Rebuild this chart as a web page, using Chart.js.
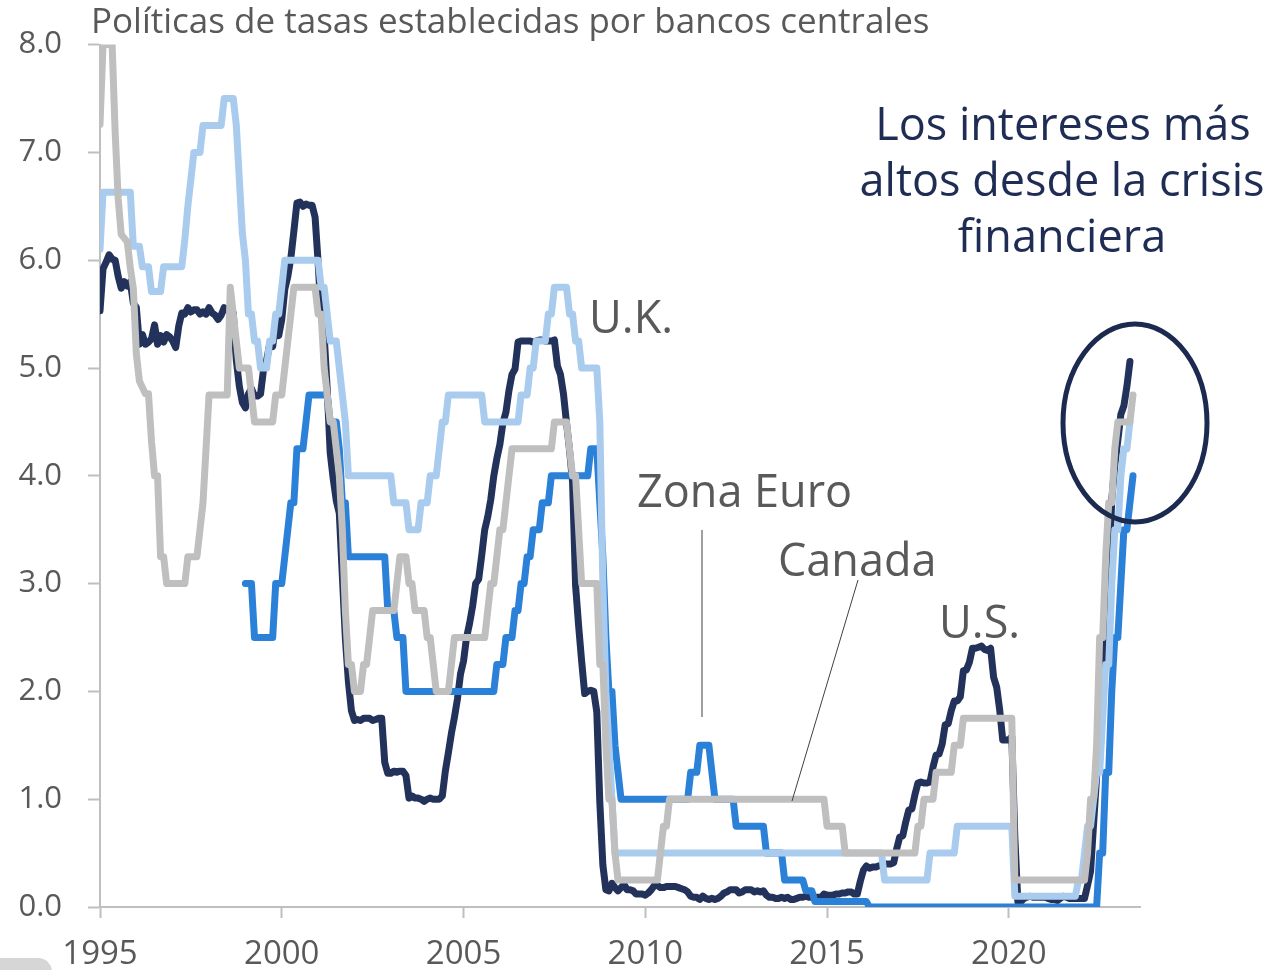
<!DOCTYPE html>
<html>
<head>
<meta charset="utf-8">
<script src="https://cdn.jsdelivr.net/npm/chart.js@4.4.0/dist/chart.umd.min.js"></script>
<style>
html,body{margin:0;padding:0;background:#ffffff;}
canvas{display:block;}
</style>
</head>
<body>
<canvas id="c" width="1276" height="970"></canvas>
<script>
// ---------------- DATA ----------------
const chartTitle = 'Políticas de tasas establecidas por bancos centrales';
const yearTicks = [1995, 2000, 2005, 2010, 2015, 2020];
const rateTicks = [0, 1, 2, 3, 4, 5, 6, 7, 8];

// U.S. effective fed funds rate, monthly from Jan 1995
const usStartYear = 1995;
const usRates = [
 5.53,5.92,5.98,6.05,6.01,6.00,5.85,5.74,5.80,5.76,5.80,5.60,
 5.56,5.22,5.31,5.22,5.24,5.27,5.40,5.22,5.30,5.24,5.31,5.29,
 5.25,5.19,5.39,5.51,5.50,5.56,5.52,5.54,5.54,5.50,5.52,5.50,
 5.56,5.51,5.49,5.45,5.49,5.56,5.54,5.55,5.51,5.07,4.83,4.68,
 4.63,4.76,4.81,4.74,4.74,4.76,4.99,5.07,5.22,5.20,5.42,5.30,
 5.45,5.73,5.85,6.02,6.27,6.53,6.54,6.50,6.52,6.51,6.51,6.40,
 5.98,5.49,5.31,4.80,4.21,3.97,3.77,3.65,3.07,2.49,2.09,1.82,
 1.73,1.74,1.73,1.75,1.75,1.75,1.73,1.74,1.75,1.75,1.34,1.24,
 1.24,1.26,1.25,1.26,1.26,1.22,1.01,1.03,1.01,1.01,1.00,0.98,
 1.00,1.01,1.00,1.00,1.00,1.03,1.26,1.43,1.61,1.76,1.93,2.16,
 2.28,2.50,2.63,2.79,3.00,3.04,3.26,3.50,3.62,3.78,4.00,4.16,
 4.29,4.49,4.59,4.79,4.94,4.99,5.24,5.25,5.25,5.25,5.25,5.24,
 5.25,5.26,5.26,5.25,5.25,5.25,5.26,5.02,4.94,4.76,4.49,4.24,
 3.94,2.98,2.61,2.28,1.98,2.00,2.01,2.00,1.81,0.97,0.39,0.16,
 0.15,0.22,0.18,0.15,0.18,0.21,0.16,0.16,0.15,0.12,0.12,0.12,
 0.11,0.13,0.16,0.20,0.20,0.18,0.18,0.19,0.19,0.19,0.19,0.18,
 0.17,0.16,0.14,0.10,0.09,0.09,0.07,0.10,0.08,0.07,0.08,0.07,
 0.08,0.10,0.13,0.14,0.16,0.16,0.16,0.13,0.14,0.16,0.16,0.16,
 0.14,0.15,0.14,0.15,0.11,0.09,0.09,0.08,0.08,0.09,0.08,0.09,
 0.07,0.07,0.08,0.09,0.09,0.10,0.09,0.09,0.09,0.09,0.09,0.12,
 0.11,0.11,0.11,0.12,0.12,0.13,0.13,0.14,0.14,0.12,0.12,0.24,
 0.34,0.38,0.36,0.37,0.37,0.38,0.39,0.40,0.40,0.40,0.41,0.54,
 0.65,0.66,0.79,0.90,0.91,1.04,1.15,1.16,1.15,1.15,1.16,1.30,
 1.41,1.42,1.51,1.69,1.70,1.82,1.91,1.91,1.95,2.19,2.20,2.27,
 2.40,2.40,2.41,2.42,2.39,2.38,2.40,2.13,2.04,1.83,1.55,1.55,
 1.55,1.58,0.65,0.05,0.05,0.08,0.09,0.10,0.09,0.09,0.09,0.09,
 0.09,0.08,0.07,0.07,0.06,0.08,0.10,0.09,0.08,0.08,0.08,0.08,
 0.08,0.08,0.20,0.33,0.77,1.21,1.68,2.33,2.56,3.08,3.78,4.10,
 4.33,4.57,4.65,4.83,5.06
];

// Euro area main refinancing rate: [month, rate] vertices
const euroRates = [
 ['1999-01',3.0],['1999-03',3.0],['1999-04',2.5],['1999-10',2.5],['1999-11',3.0],['2000-01',3.0],
 ['2000-02',3.25],['2000-03',3.5],['2000-04',3.75],['2000-05',3.75],['2000-06',4.25],['2000-08',4.25],
 ['2000-09',4.5],['2000-10',4.75],['2001-04',4.75],['2001-05',4.5],['2001-07',4.5],['2001-08',4.25],
 ['2001-09',3.75],['2001-10',3.75],['2001-11',3.25],['2002-11',3.25],['2002-12',2.75],['2003-02',2.75],
 ['2003-03',2.5],['2003-05',2.5],['2003-06',2.0],['2005-11',2.0],['2005-12',2.25],['2006-02',2.25],
 ['2006-03',2.5],['2006-05',2.5],['2006-06',2.75],['2006-07',2.75],['2006-08',3.0],['2006-09',3.0],
 ['2006-10',3.25],['2006-11',3.25],['2006-12',3.5],['2007-02',3.5],['2007-03',3.75],['2007-05',3.75],
 ['2007-06',4.0],['2008-06',4.0],['2008-07',4.25],['2008-09',4.25],['2008-10',3.75],['2008-11',3.25],
 ['2008-12',2.5],['2009-01',2.0],['2009-02',2.0],['2009-03',1.5],['2009-04',1.25],['2009-05',1.0],
 ['2011-03',1.0],['2011-04',1.25],['2011-06',1.25],['2011-07',1.5],['2011-10',1.5],['2011-11',1.25],
 ['2011-12',1.0],['2012-06',1.0],['2012-07',0.75],['2013-04',0.75],['2013-05',0.5],['2013-10',0.5],
 ['2013-11',0.25],['2014-05',0.25],['2014-06',0.15],['2014-08',0.15],['2014-09',0.05],['2016-02',0.05],
 ['2016-03',0.0],['2022-06',0.0],['2022-07',0.5],['2022-08',0.5],['2022-09',1.25],['2022-10',1.25],
 ['2022-11',2.0],['2022-12',2.5],['2023-01',2.5],['2023-02',3.0],['2023-03',3.5],['2023-04',3.5],
 ['2023-05',3.75],['2023-06',4.0]
];

// U.K. Bank Rate: [month, rate] vertices
const ukRates = [
 ['1995-01',6.10],['1995-02',6.63],['1995-11',6.63],['1995-12',6.13],['1996-02',6.13],['1996-03',5.94],
 ['1996-05',5.94],['1996-06',5.71],['1996-09',5.71],['1996-10',5.94],['1997-04',5.94],['1997-05',6.19],
 ['1997-06',6.5],['1997-07',6.75],['1997-08',7.0],['1997-10',7.0],['1997-11',7.25],['1998-05',7.25],
 ['1998-06',7.5],['1998-09',7.5],['1998-10',7.25],['1998-11',6.75],['1998-12',6.25],['1999-01',6.0],
 ['1999-02',5.5],['1999-03',5.5],['1999-04',5.25],['1999-05',5.25],['1999-06',5.0],['1999-08',5.0],
 ['1999-09',5.25],['1999-10',5.25],['1999-11',5.5],['1999-12',5.5],['2000-01',5.75],['2000-02',6.0],
 ['2001-01',6.0],['2001-02',5.75],['2001-03',5.75],['2001-04',5.5],['2001-05',5.25],['2001-07',5.25],
 ['2001-08',5.0],['2001-09',4.75],['2001-10',4.5],['2001-11',4.0],['2003-01',4.0],['2003-02',3.75],
 ['2003-06',3.75],['2003-07',3.5],['2003-10',3.5],['2003-11',3.75],['2004-01',3.75],['2004-02',4.0],
 ['2004-04',4.0],['2004-05',4.25],['2004-06',4.5],['2004-07',4.5],['2004-08',4.75],['2005-07',4.75],
 ['2005-08',4.5],['2006-07',4.5],['2006-08',4.75],['2006-10',4.75],['2006-11',5.0],['2006-12',5.0],
 ['2007-01',5.25],['2007-04',5.25],['2007-05',5.5],['2007-06',5.5],['2007-07',5.75],['2007-11',5.75],
 ['2007-12',5.5],['2008-01',5.5],['2008-02',5.25],['2008-03',5.25],['2008-04',5.0],['2008-09',5.0],
 ['2008-10',4.5],['2008-11',3.0],['2008-12',2.0],['2009-01',1.5],['2009-02',1.0],['2009-03',0.5],
 ['2016-07',0.5],['2016-08',0.25],['2017-10',0.25],['2017-11',0.5],['2018-07',0.5],['2018-08',0.75],
 ['2020-02',0.75],['2020-03',0.1],['2021-11',0.1],['2021-12',0.25],['2022-01',0.25],['2022-02',0.5],
 ['2022-03',0.75],['2022-04',0.75],['2022-05',1.0],['2022-06',1.25],['2022-07',1.25],['2022-08',1.75],
 ['2022-09',2.25],['2022-10',2.25],['2022-11',3.0],['2022-12',3.5],['2023-01',3.5],['2023-02',4.0],
 ['2023-03',4.25],['2023-04',4.25],['2023-05',4.5]
];

// Canada overnight rate: [month, rate] vertices
const canadaRates = [
 ['1995-01',7.26],['1995-02',8.0],['1995-05',8.0],['1995-06',7.19],['1995-07',6.57],['1995-08',6.24],
 ['1995-10',6.17],['1995-11',5.93],['1995-12',5.74],['1996-01',5.13],['1996-02',4.88],['1996-04',4.76],
 ['1996-05',4.76],['1996-06',4.32],['1996-07',4.0],['1996-08',4.0],['1996-09',3.25],['1996-10',3.25],
 ['1996-11',3.0],['1997-05',3.0],['1997-06',3.25],['1997-09',3.25],['1997-10',3.5],['1997-11',3.75],
 ['1997-12',4.25],['1998-01',4.75],['1998-07',4.75],['1998-08',5.75],['1998-09',5.5],['1998-10',5.25],
 ['1998-11',5.0],['1999-02',5.0],['1999-03',4.75],['1999-04',4.5],['1999-10',4.5],['1999-11',4.75],
 ['2000-01',4.75],['2000-02',5.0],['2000-03',5.25],['2000-04',5.5],['2000-05',5.75],['2000-12',5.75],
 ['2001-01',5.5],['2001-02',5.5],['2001-03',5.0],['2001-04',4.75],['2001-05',4.5],['2001-06',4.5],
 ['2001-07',4.25],['2001-08',4.0],['2001-09',3.5],['2001-10',2.75],['2001-11',2.25],['2001-12',2.25],
 ['2002-01',2.0],['2002-03',2.0],['2002-04',2.25],['2002-05',2.25],['2002-06',2.5],['2002-07',2.75],
 ['2003-02',2.75],['2003-03',3.0],['2003-04',3.25],['2003-06',3.25],['2003-07',3.0],['2003-08',3.0],
 ['2003-09',2.75],['2003-12',2.75],['2004-01',2.5],['2004-02',2.5],['2004-03',2.25],['2004-04',2.0],
 ['2004-08',2.0],['2004-09',2.25],['2004-10',2.5],['2005-08',2.5],['2005-09',2.75],['2005-10',3.0],
 ['2005-11',3.0],['2005-12',3.25],['2006-01',3.5],['2006-02',3.5],['2006-03',3.75],['2006-04',4.0],
 ['2006-05',4.25],['2007-06',4.25],['2007-07',4.5],['2007-11',4.5],['2007-12',4.25],['2008-01',4.0],
 ['2008-02',4.0],['2008-03',3.5],['2008-04',3.0],['2008-09',3.0],['2008-10',2.25],['2008-11',2.25],
 ['2008-12',1.5],['2009-01',1.0],['2009-02',1.0],['2009-03',0.5],['2009-04',0.25],['2010-05',0.25],
 ['2010-06',0.5],['2010-07',0.75],['2010-08',0.75],['2010-09',1.0],['2014-12',1.0],['2015-01',0.75],
 ['2015-06',0.75],['2015-07',0.5],['2017-06',0.5],['2017-07',0.75],['2017-08',0.75],['2017-09',1.0],
 ['2017-12',1.0],['2018-01',1.25],['2018-06',1.25],['2018-07',1.5],['2018-09',1.5],['2018-10',1.75],
 ['2020-02',1.75],['2020-03',0.25],['2022-02',0.25],['2022-03',0.5],['2022-04',1.0],['2022-05',1.0],
 ['2022-06',1.5],['2022-07',2.5],['2022-08',2.5],['2022-09',3.25],['2022-10',3.75],['2022-11',3.75],
 ['2022-12',4.25],['2023-01',4.5],['2023-05',4.5],['2023-06',4.75]
];

const seriesLabels = ['Canada', 'U.K.', 'Zona Euro', 'U.S.'];
const noteLines = ['Los intereses más', 'altos desde la crisis', 'financiera'];

// ---------------- BUILD ----------------
function monthToX(m) {
  const [y, mo] = m.split('-').map(Number);
  return y + (mo - 1) / 12;
}
const toPoints = arr => arr.map(([m, v]) => ({ x: monthToX(m), y: v }));
const usPoints = usRates.map((v, i) => ({ x: usStartYear + i / 12, y: v }));

const FONT = "'Open Sans', 'Noto Sans', sans-serif";
const TXT = '#595959';
const AXIS = '#BFBFBF';

function ds(label, data, color) {
  return {
    label, data, borderColor: color, backgroundColor: color,
    borderWidth: 7, pointRadius: 0, tension: 0, fill: false,
    borderJoinStyle: 'round', borderCapStyle: 'round'
  };
}

const annotations = {
  id: 'annotations',
  afterDatasetsDraw(chart) {
    const ctx = chart.ctx;
    ctx.save();
    // title
    ctx.fillStyle = TXT;
    ctx.textAlign = 'left';
    ctx.textBaseline = 'alphabetic';
    ctx.font = `35px ${FONT}`;
    ctx.fillText(chartTitle, 91, 33);

    // series labels
    ctx.font = `45px ${FONT}`;
    ctx.fillStyle = TXT;
    ctx.fillText(seriesLabels[1], 589, 333);
    ctx.fillText(seriesLabels[2], 637, 507);
    ctx.fillText(seriesLabels[0], 778, 576);
    ctx.fillText(seriesLabels[3], 939, 638);

    // leader lines
    ctx.strokeStyle = '#7F7F7F';
    ctx.lineWidth = 1.5;
    ctx.beginPath(); ctx.moveTo(702, 530); ctx.lineTo(702, 717); ctx.stroke();
    ctx.strokeStyle = '#404040';
    ctx.lineWidth = 1;
    ctx.beginPath(); ctx.moveTo(858, 580); ctx.lineTo(792, 801); ctx.stroke();

    // note
    ctx.fillStyle = '#1F2D55';
    ctx.textAlign = 'center';
    ctx.font = `45px ${FONT}`;
    ctx.fillText(noteLines[0], 1063, 140);
    ctx.fillText(noteLines[1], 1062, 196);
    ctx.fillText(noteLines[2], 1062, 252);

    // ellipse
    ctx.strokeStyle = '#1B2A4E';
    ctx.lineWidth = 5;
    ctx.beginPath();
    ctx.ellipse(1135, 423, 72, 99, 0, 0, Math.PI * 2);
    ctx.stroke();

    // bottom-left decoration
    ctx.fillStyle = '#D6D6D6';
    ctx.beginPath();
    ctx.roundRect(-20, 958, 72, 40, 14);
    ctx.fill();
    ctx.restore();
  }
};

new Chart(document.getElementById('c'), {
  type: 'line',
  data: {
    datasets: [
      ds(seriesLabels[0], toPoints(canadaRates), '#BFBFBF'),
      ds(seriesLabels[1], toPoints(ukRates), '#A9CBEE'),
      ds(seriesLabels[2], toPoints(euroRates), '#2B80D8'),
      ds(seriesLabels[3], usPoints, '#22325A')
    ]
  },
  options: {
    responsive: false,
    animation: false,
    devicePixelRatio: 1,
    layout: { padding: { left: 0, top: 43, right: 136, bottom: 0 } },
    plugins: { legend: { display: false }, tooltip: { enabled: false }, title: { display: false } },
    scales: {
      x: {
        type: 'linear', min: 1995, max: 2023.61,
        afterBuildTicks: s => { s.ticks = yearTicks.map(v => ({ value: v })); },
        afterFit: s => { s.height = 63; },
        ticks: { color: TXT, font: { family: FONT, size: 33 }, padding: 17, maxRotation: 0, autoSkip: false,
                 callback: v => String(v) },
        grid: { display: true, drawOnChartArea: false, drawTicks: true, tickLength: 11, tickColor: AXIS, tickWidth: 2 },
        border: { display: true, color: AXIS, width: 2 }
      },
      y: {
        type: 'linear', min: 0, max: 8,
        afterBuildTicks: s => { s.ticks = rateTicks.map(v => ({ value: v })); },
        afterFit: s => { s.width = 100; },
        ticks: { color: TXT, font: { family: FONT, size: 31 }, padding: 26, callback: v => v.toFixed(1) },
        grid: { display: true, drawOnChartArea: false, drawTicks: true, tickLength: 12, tickColor: AXIS, tickWidth: 2 },
        border: { display: true, color: AXIS, width: 2 }
      }
    }
  },
  plugins: [annotations]
});
</script>
</body>
</html>
